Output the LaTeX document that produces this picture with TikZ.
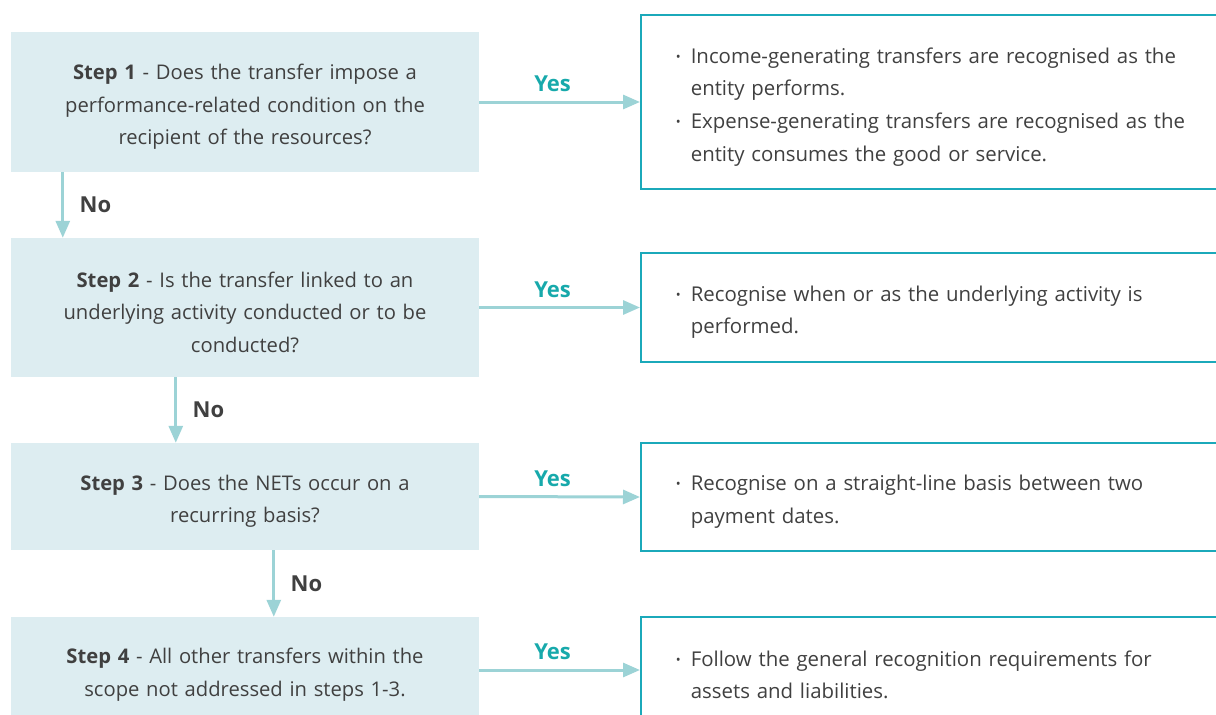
\documentclass[tikz,border=0pt]{standalone}
\usepackage{fontspec}
\setmainfont{Open Sans}
\usepackage{tikz}
\usetikzlibrary{positioning}
\usetikzlibrary{arrows.meta}
\definecolor{boxfill}{HTML}{DDEDF1}
\definecolor{boxline}{HTML}{1BA9BA}
\definecolor{flowline}{HTML}{9CD3D6}
\definecolor{yescol}{HTML}{17A9AB}
\definecolor{txtcol}{HTML}{404040}
\tikzset{
  stepbox/.style={fill=boxfill, minimum width=468pt, text width=440pt, align=center, inner sep=0pt, text=txtcol, font=\fontsize{20.2}{32.5}\selectfont},
  resbox/.style={draw=boxline, line width=1.6pt, text width=560pt, inner xsep=35pt, inner ysep=0pt, align=left, text=txtcol, font=\fontsize{20.4}{32.7}\selectfont},
  flow/.style={draw=flowline, line width=3pt, -{Triangle[length=17pt,width=14pt]}},
  yeslab/.style={text=yescol, font=\fontsize{22}{26}\selectfont\bfseries},
  nolab/.style={text=txtcol, font=\fontsize{22}{26}\selectfont\bfseries}
}
\newcommand{\strt}{\rule{0pt}{25pt}}
\newcommand{\blt}{\makebox[15pt][l]{\raisebox{2pt}{\fontsize{13}{13}\selectfont\textbullet}}}
\newcommand{\cnt}{\hspace*{15pt}}
\begin{document}
\begin{tikzpicture}[x=1pt,y=-1pt]
			\useasboundingbox (0,0) rectangle (1216,715);
			\clip (0,0) rectangle (1216,715);
			% left column
			\node at (245,102) (s1) [stepbox, minimum height=140pt] {\strt\textbf{Step 1} - Does the transfer impose a\\performance-related condition on the\\recipient of the resources?};
			\node at (245,307.5) (s2) [stepbox, minimum height=139pt] {\strt\textbf{Step 2} - Is the transfer linked to an\\underlying activity conducted or to be\\conducted?};
			\node at (245,496.5) (s3) [stepbox, minimum height=107pt] {\strt\textbf{Step 3} - Does the NETs occur on a\\recurring basis?};
			\node at (245,670) (s4) [stepbox, minimum height=106pt] {\strt\textbf{Step 4} - All other transfers within the\\scope not addressed in steps 1-3.};
			% right column
			\node at (640,102) (r1) [resbox, anchor=west, minimum height=174pt] {\strt\blt Income-generating transfers are recognised as the\\\cnt entity performs.\\\blt Expense-generating transfers are recognised as the\\\cnt entity consumes the good or service.};
			\node at (640,307.5) (r2) [resbox, anchor=west, minimum height=109pt] {\strt\blt Recognise when or as the underlying activity is\\\cnt performed.};
			\node at (640,497) (r3) [resbox, anchor=west, minimum height=108pt] {\strt\blt Recognise on a straight-line basis between two\\\cnt payment dates.};
			\node at (640,670) (r4) [resbox, anchor=west, minimum height=106pt] {\strt\blt Follow the general recognition requirements for\\\cnt assets and liabilities.};
			% yes arrows
			\draw[flow] (s1.east) -- (r1.west) node[midway, above=5pt, xshift=-7pt, yeslab] (y1) {Yes};
			\draw[flow] (s2.east) -- (r2.west) node[midway, above=5pt, xshift=-7pt, yeslab] (y2) {Yes};
			\draw[flow] (s3.east) -- (r3.west) node[midway, above=5pt, xshift=-7pt, yeslab] (y3) {Yes};
			\draw[flow] (s4.east) -- (r4.west) node[midway, above=5pt, xshift=-7pt, yeslab] (y4) {Yes};
			% no arrows
			\draw[flow] ([xshift=52pt]s1.south west) -- ([xshift=52pt]s2.north west) node[midway, right=12pt, nolab] (n1) {No};
			\draw[flow] ([xshift=165pt]s2.south west) -- ([xshift=165pt]s3.north west) node[midway, right=12pt, nolab] (n2) {No};
			\draw[flow] ([xshift=263pt]s3.south west) -- ([xshift=263pt]s4.north west) node[midway, right=12pt, nolab] (n3) {No};
\end{tikzpicture}
\end{document}
